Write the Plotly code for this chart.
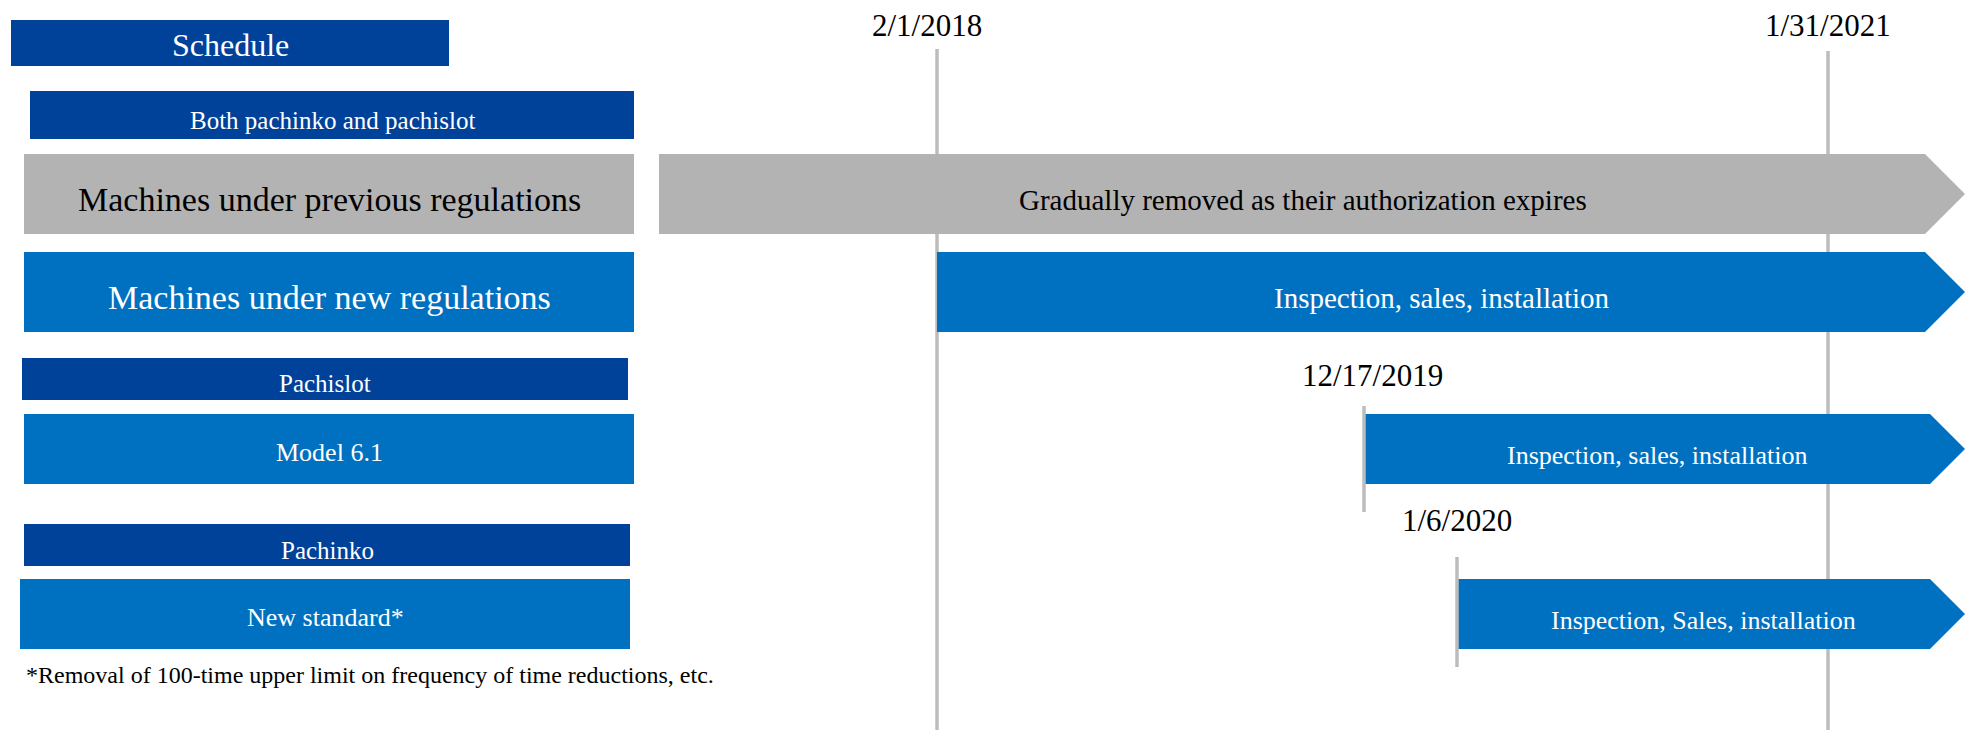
import plotly.graph_objects as go

# ---------------------------------------------------------------------------
# Content
# ---------------------------------------------------------------------------
title_text = "Schedule"

group_headers = ["Both pachinko and pachislot", "Pachislot", "Pachinko"]

row_labels = [
    "Machines under previous regulations",
    "Machines under new regulations",
    "Model 6.1",
    "New standard*",
]

# period each row's arrow starts from (None = already in place before the timeline)
row_start_dates = [None, "2/1/2018", "12/17/2019", "1/6/2020"]

bar_texts = [
    "Gradually removed as their authorization expires",
    "Inspection, sales, installation",
    "Inspection, sales, installation",
    "Inspection, Sales, installation",
]

milestone_dates = ["2/1/2018", "12/17/2019", "1/6/2020", "1/31/2021"]

footnote = "*Removal of 100-time upper limit on frequency of time reductions, etc."

# ---------------------------------------------------------------------------
# Layout of the schematic (canvas units; timeline is not drawn to scale)
# ---------------------------------------------------------------------------
W, H = 1973, 730
FONT = "Liberation Serif, Times New Roman, serif"

DARK_BLUE = "#00429a"
BLUE = "#0071c1"
GREY = "#b3b3b3"
LINE_GREY = "#bcbcbc"

timeline_x = {"2/1/2018": 937, "12/17/2019": 1364, "1/6/2020": 1457, "1/31/2021": 1828}
timeline_left = 659
timeline_end = 1965

# vertical extent of each milestone marker, label y and label x nudge
marker_span = {
    "2/1/2018": (49, 730, 25, -10),
    "12/17/2019": (406, 512, 375, 8),
    "1/6/2020": (557, 667, 520, 0),
    "1/31/2021": (51, 730, 25, 0),
}
long_markers = {"2/1/2018", "1/31/2021"}

title_box = dict(x0=11, x1=449, y0=20, y1=66, size=32, dy=2)
header_boxes = [
    dict(x0=30, x1=634, y0=91, y1=139, size=25, dy=5),
    dict(x0=22, x1=628, y0=358, y1=400, size=25, dy=4),
    dict(x0=24, x1=630, y0=524, y1=566, size=25, dy=5),
]
row_boxes = [
    dict(x0=24, x1=634, y0=154, y1=234, size=34, fill=GREY, color="black", bar_size=29, dy=5),
    dict(x0=24, x1=634, y0=252, y1=332, size=34, fill=BLUE, color="white", bar_size=29, dy=5),
    dict(x0=24, x1=634, y0=414, y1=484, size=26, fill=BLUE, color="white", bar_size=26, dy=3),
    dict(x0=20, x1=630, y0=579, y1=649, size=26, fill=BLUE, color="white", bar_size=26, dy=3),
]
bar_text_dy = 6

shapes = []
annotations = []


def label(x, y, text, size, color, xanchor="center"):
    annotations.append(dict(
        x=x, y=y, xref="x", yref="y", text=text, showarrow=False,
        xanchor=xanchor, yanchor="middle",
        font=dict(family=FONT, size=size, color=color),
    ))


def rect(b, fill):
    shapes.append(dict(type="rect", xref="x", yref="y",
                       x0=b["x0"], x1=b["x1"], y0=b["y0"], y1=b["y1"],
                       fillcolor=fill, line=dict(width=0), layer="above"))


def marker(d):
    y0, y1, _, _ = marker_span[d]
    shapes.append(dict(type="line", xref="x", yref="y",
                       x0=timeline_x[d], x1=timeline_x[d], y0=y0, y1=y1,
                       line=dict(color=LINE_GREY, width=3.5), layer="above"))


# long milestone markers sit behind the arrows
for d in milestone_dates:
    if d in long_markers:
        marker(d)

# title and group header bars
rect(title_box, DARK_BLUE)
label((title_box["x0"] + title_box["x1"]) / 2,
      (title_box["y0"] + title_box["y1"]) / 2 + title_box["dy"],
      title_text, title_box["size"], "white")
for text, b in zip(group_headers, header_boxes):
    rect(b, DARK_BLUE)
    label((b["x0"] + b["x1"]) / 2, (b["y0"] + b["y1"]) / 2 + b["dy"], text, b["size"], "white")

# row labels and their timeline arrows
for text, start, bar_text, b in zip(row_labels, row_start_dates, bar_texts, row_boxes):
    rect(b, b["fill"])
    ym = (b["y0"] + b["y1"]) / 2
    label((b["x0"] + b["x1"]) / 2, ym + b["dy"], text, b["size"], b["color"])

    x0 = timeline_x[start] if start else timeline_left
    head = (b["y1"] - b["y0"]) / 2
    xb = timeline_end - head
    path = (f"M {x0},{b['y0']} L {xb},{b['y0']} L {timeline_end},{ym} "
            f"L {xb},{b['y1']} L {x0},{b['y1']} Z")
    shapes.append(dict(type="path", xref="x", yref="y", path=path,
                       fillcolor=b["fill"], line=dict(width=0), layer="above"))
    label((x0 + timeline_end - head * 0.45) / 2, ym + bar_text_dy,
          bar_text, b["bar_size"], b["color"])

# short milestone markers drawn over the arrow starts, then all date labels
for d in milestone_dates:
    if d not in long_markers:
        marker(d)
    _, _, ylab, dx = marker_span[d]
    label(timeline_x[d] + dx, ylab, d, 31, "black")

label(24, 675, footnote, 24, "black", xanchor="left")

fig = go.Figure()
fig.add_trace(go.Scatter(x=[0, W], y=[0, H], mode="markers",
                         marker=dict(opacity=0), hoverinfo="skip", showlegend=False))
fig.update_layout(
    width=W, height=H,
    margin=dict(l=0, r=0, t=0, b=0),
    paper_bgcolor="white", plot_bgcolor="white",
    xaxis=dict(range=[0, W], visible=False, fixedrange=True),
    yaxis=dict(range=[H, 0], visible=False, fixedrange=True),
    shapes=shapes, annotations=annotations,
    showlegend=False,
)
fig.write_html("out.html")
